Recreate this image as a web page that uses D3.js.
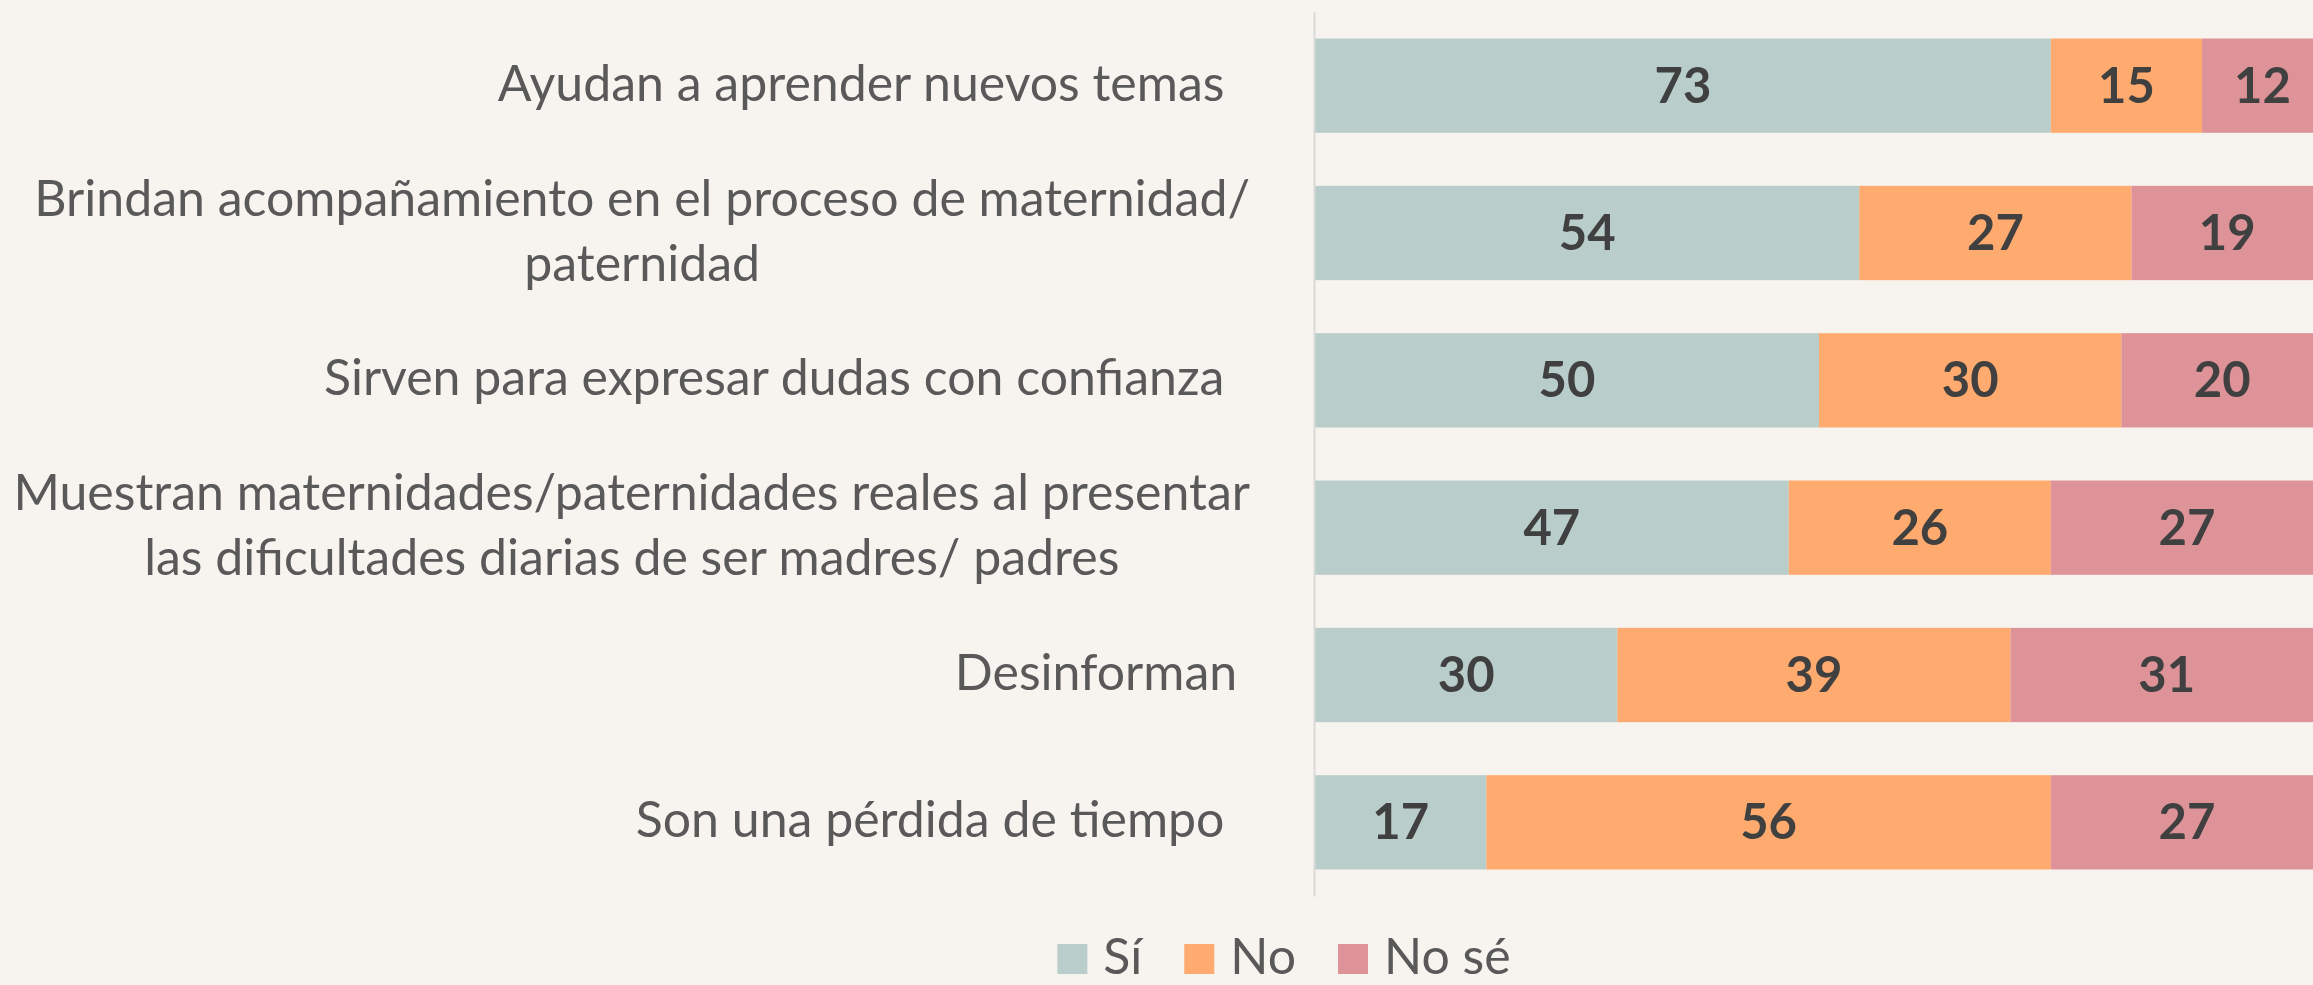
<!DOCTYPE html>
<html>
<head>
<meta charset="utf-8">
<script src="https://cdn.jsdelivr.net/npm/d3@7"></script>
<style>
  html, body { margin: 0; padding: 0; background: #F7F4EF; }
  svg { display: block; font-family: Lato, "Open Sans", sans-serif; }
</style>
</head>
<body>
<script>
var width = 2313;
var height = 985;

// categories (wrapped lines as in the original), trailing spaces kept
var categories = [
  ["Ayudan a aprender nuevos temas  "],
  ["Brindan acompañamiento en el proceso de maternidad/", "paternidad"],
  ["Sirven para expresar dudas con confianza  "],
  ["Muestran maternidades/paternidades reales al presentar", "las dificultades diarias de ser madres/ padres"],
  ["Desinforman "],
  ["Son una pérdida de tiempo  "]
];
var series = ["Sí", "No", "No sé"];
var si   = [73, 54, 50, 47, 30, 17];
var no   = [15, 27, 30, 26, 39, 56];
var nose = [12, 19, 20, 27, 31, 27];

var colors = ["#B9CDCA", "#FFAA6E", "#DE9399"];

var rows = categories.map(function(c, i) {
  return { key: i, lines: c, "Sí": si[i], "No": no[i], "No sé": nose[i] };
});

var svg = d3.select("body")
  .append("svg")
  .attr("width", width)
  .attr("height", height);

svg.append("rect")
  .attr("width", width)
  .attr("height", height)
  .attr("fill", "#F7F4EF");

var x = d3.scaleLinear()
  .domain([0, 100])
  .range([1315, 2323]);

var y = d3.scaleBand()
  .domain(rows.map(function(d) { return d.key; }))
  .range([12, 896])
  .paddingInner(0.36)
  .paddingOuter(0.18);

var color = d3.scaleOrdinal()
  .domain(series)
  .range(colors);

var stacked = d3.stack().keys(series)(rows);

var layers = svg.append("g").selectAll("g")
  .data(stacked)
  .enter().append("g")
  .attr("fill", function(d) { return color(d.key); });

layers.selectAll("rect")
  .data(function(d) { return d; })
  .enter().append("rect")
  .attr("x", function(d) { return x(d[0]); })
  .attr("y", function(d) { return y(d.data.key); })
  .attr("width", function(d) { return x(d[1]) - x(d[0]); })
  .attr("height", y.bandwidth());

// value labels
layers.selectAll("text")
  .data(function(d) { return d; })
  .enter().append("text")
  .attr("x", function(d) { return (x(d[0]) + x(d[1])) / 2; })
  .attr("y", function(d) { return y(d.data.key) + y.bandwidth() / 2 + 17; })
  .attr("text-anchor", "middle")
  .attr("fill", "#404040")
  .style("font-size", "49px")
  .style("font-weight", "bold")
  .text(function(d) { return d[1] - d[0]; });

// category axis: only the domain line
var axis = svg.append("g")
  .attr("transform", "translate(1314,0)")
  .call(d3.axisLeft(y).tickSize(0).tickFormat(""));
axis.select(".domain").attr("stroke", "#D9D9D9").attr("stroke-width", 2);

// category labels
var labelRight = 1250;
var lineHeight = 65;
var labels = svg.append("g")
  .attr("fill", "#595959")
  .style("font-size", "50px")
  .style("white-space", "pre");

rows.forEach(function(d) {
  var cy = y(d.key) + y.bandwidth() / 2;
  var n = d.lines.length;
  var g = labels.append("g");
  var texts = g.selectAll("text")
    .data(d.lines)
    .enter().append("text")
    .attr("xml:space", "preserve")
    .attr("y", function(l, i) { return cy + 15 + (i - (n - 1) / 2) * lineHeight; })
    .text(function(l) { return l; });
  var maxW = d3.max(texts.nodes(), function(t) { return t.getComputedTextLength(); });
  texts.attr("text-anchor", "middle").attr("x", labelRight - maxW / 2);
});

// legend
var legend = svg.append("g")
  .attr("fill", "#595959")
  .style("font-size", "50px");
var lx = 0;
series.forEach(function(s) {
  var item = legend.append("g").attr("transform", "translate(" + lx + ",0)");
  item.append("rect")
    .attr("x", 0).attr("y", 944)
    .attr("width", 30).attr("height", 30)
    .attr("fill", color(s));
  var t = item.append("text")
    .attr("x", 46).attr("y", 974)
    .text(s);
  lx += 46 + t.node().getComputedTextLength() + 42;
});
var legendW = lx - 42;
legend.attr("transform", "translate(" + (1284 - legendW / 2) + ",0)");
</script>
</body>
</html>
